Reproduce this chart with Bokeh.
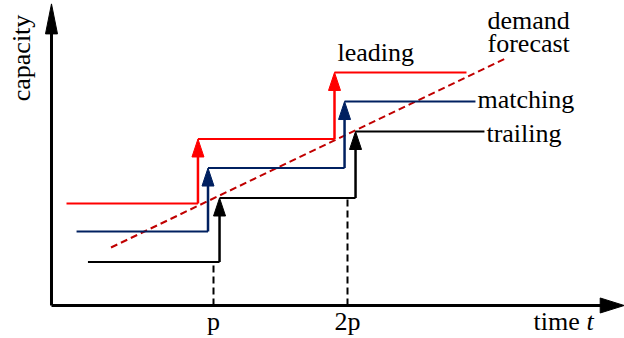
from bokeh.plotting import figure
from bokeh.embed import file_html
from bokeh.resources import INLINE
from bokeh.core.properties import value

# ---- data (time in units of p, capacity in arbitrary units) ----
series_names = ["leading", "matching", "trailing"]
series_colors = ["#ff0000", "#002060", "#000000"]
# start time, first rise, second rise, end time
leading_t = [-0.097, 0.884, 1.903, 2.888]
matching_t = [-0.022, 0.959, 1.978, 2.955]
trailing_t = [0.063, 1.045, 2.060, 3.022]
# capacity levels before/after each rise
leading_c = [1.569, 2.562, 3.585]
matching_c = [1.138, 2.115, 3.138]
trailing_c = [0.669, 1.654, 2.677]

demand_t = [0.235, 3.194]
demand_c = [0.892, 3.815]

period_ticks = [1.0, 2.0]
period_labels = ["p", "2p"]
period_tops = [0.669, 1.654]   # dashed guides rise to trailing levels

axis_origin = (-0.209, 0.0)
axis_x_end = 4.065
axis_y_end = 4.640

x0, x1 = -0.5896, 4.0672
y0, y1 = -0.5077, 4.6923
W, H = 624, 338
sx = W / (x1 - x0)   # px per time unit
sy = H / (y1 - y0)   # px per capacity unit

p = figure(width=W, height=H, x_range=(x0, x1), y_range=(y0, y1),
           output_backend="svg", toolbar_location=None,
           min_border=0, min_border_left=0, min_border_right=0,
           min_border_top=0, min_border_bottom=0)
p.axis.visible = False
p.grid.visible = False
p.outline_line_color = None
p.background_fill_color = "white"
p.border_fill_color = "white"

FONT = "Liberation Serif"
FS = "26px"

def tri_up(x, tip, w_px, l_px):
    hw = w_px / 2 / sx
    base = tip - l_px / sy
    return [x - hw, x, x + hw], [base, tip, base]

def tri_right(y, tip, w_px, l_px):
    hw = w_px / 2 / sy
    base = tip - l_px / sx
    return [base, tip, base], [y - hw, y, y + hw]

# ---- axes ----
ox, oy = axis_origin
p.segment(x0=[ox], y0=[oy], x1=[axis_x_end - 20 / sx], y1=[oy], line_color="black", line_width=3)
p.segment(x0=[ox], y0=[oy], x1=[ox], y1=[axis_y_end - 25 / sy], line_color="black", line_width=3)
hx, hy = tri_right(oy, axis_x_end, 15, 24)
vx, vy = tri_up(ox, axis_y_end, 12, 30)
p.patches(xs=[hx, vx], ys=[hy, vy], fill_color="black", line_color="black", line_width=1)

# ---- dashed period guides ----
p.segment(x0=period_ticks, y0=[oy, oy], x1=period_ticks, y1=period_tops,
          line_color="black", line_width=2, line_dash="7 4")

# ---- demand forecast ----
p.line(demand_t, demand_c, line_color="#c00000", line_width=2, line_dash="7 4")

# ---- capacity steps ----
all_t = [leading_t, matching_t, trailing_t]
all_c = [leading_c, matching_c, trailing_c]
for ts, cs, col in zip(all_t, all_c, series_colors):
    hxs = [[ts[i], ts[i + 1]] for i in range(3)]
    hys = [[cs[i], cs[i]] for i in range(3)]
    p.multi_line(xs=hxs, ys=hys, line_color=col, line_width=2)
    heads_x, heads_y = [], []
    for i in range(2):
        tx, ty = tri_up(ts[i + 1], cs[i + 1], 12, 18)
        heads_x.append(tx)
        heads_y.append(ty)
        p.segment(x0=[ts[i + 1]], y0=[cs[i]], x1=[ts[i + 1]], y1=[ty[0]],
                  line_color=col, line_width=2.5)
    p.patches(xs=heads_x, ys=heads_y, fill_color=col, line_color=col, line_width=1)

# ---- labels ----
def label(x, y, txt, align="left", style="normal", angle=0.0):
    rotated = angle != 0.0
    p.text(x=[x], y=[y], text=[txt], text_font=value(FONT), text_font_size=FS,
           text_align=align, text_baseline="alphabetic", text_color="black",
           text_font_style=style, angle=angle,
           x_offset=-8 if rotated else 0, y_offset=0 if rotated else -7)

label(leading_t[2] + 3 / sx, leading_c[2] + 13 / sy, "leading")
label(matching_t[3] + 2 / sx, matching_c[2] - 5 / sy, "matching")
label(trailing_t[3] + 2 / sx, trailing_c[2] - 9 / sy, "trailing")
label(3.045, 4.277, "demand")
label(3.045, 3.923, "forecast")
for t, lab in zip(period_ticks, period_labels):
    label(t, -0.354, lab, align="center")
label(3.388, -0.354, "time ")
label(3.388 + 53 / sx, -0.354, "t", style="italic")
label(-0.373, 3.808, "capacity", align="center", angle=1.5707963)

open("out.html", "w").write(file_html(p, INLINE))
